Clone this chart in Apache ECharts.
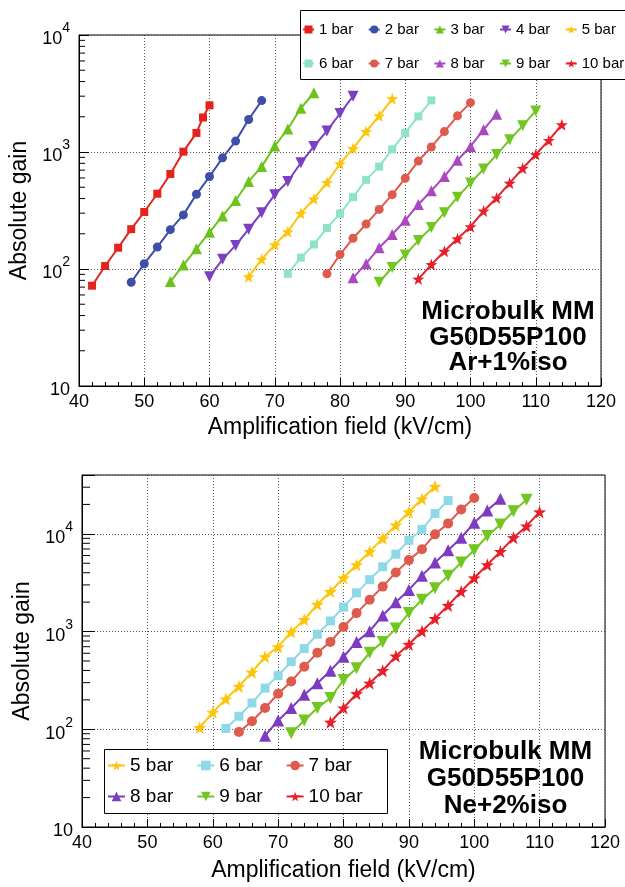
<!DOCTYPE html>
<html><head><meta charset="utf-8">
<script src="https://cdn.jsdelivr.net/npm/echarts@6/dist/echarts.min.js"></script>
<style>
body{margin:0;background:#fff}
#c1{position:absolute;left:0;top:0;width:625px;height:444px}
#c2{position:absolute;left:0;top:444px;width:625px;height:443px}
</style>
</head><body><div id="c1"></div><div id="c2"></div>
<script>
// ---------- Data: Ar+1%iso (top) ----------
const fieldAr1 = [42,44,46,48,50,52,54,56,58,59,60];
const gainAr1  = [72,106,152,219,307,440,649,1007,1456,1973,2505];
const fieldAr2 = [48,50,52,54,56,58,60,62,64,66,68];
const gainAr2  = [77,111,154,217,290,435,617,891,1239,1896,2749];
const fieldAr3 = [54,56,58,60,62,64,66,68,70,72,74,76];
const gainAr3  = [78,108,149,206,284,385,560,750,1125,1574,2365,3207];
const fieldAr4 = [60,62,64,66,68,70,72,74,76,78,80,82];
const gainAr4  = [86,121,159,219,303,432,560,809,1116,1514,2133,2998];
const fieldAr5 = [66,68,70,72,74,76,78,80,82,84,86,88];
const gainAr5  = [86,121,161,208,299,397,549,794,1069,1495,2037,2852];
const fieldAr6 = [72,74,76,78,80,82,84,86,88,90,92,94];
const gainAr6  = [91,125,162,224,297,411,578,750,1054,1456,2013,2761];
const fieldAr7 = [78,80,82,84,86,88,90,92,94,96,98,100];
const gainAr7  = [91,133,183,242,323,432,597,836,1104,1495,2037,2642];
const fieldAr8 = [82,84,86,88,90,92,94,96,98,100,102,104];
const gainAr8  = [84,111,152,197,261,356,467,617,851,1116,1552,2104];
const fieldAr9 = [86,88,90,92,94,96,98,100,102,104,106,108,110];
const gainAr9  = [77,103,132,175,226,303,411,542,716,951,1271,1680,2244];
const fieldAr10 = [92,94,96,98,100,102,104,106,108,110,112,114];
const gainAr10  = [82,109,142,181,230,313,405,542,725,951,1256,1711];

// ---------- Data: Ne+2%iso (bottom) ----------
const fieldNe5 = [58,60,62,64,66,68,70,72,74,76,78,80,82,84,86,88,90,92,94];
const gainNe5  = [104,149,204,274,384,552,698,991,1324,1892,2566,3532,4818,6577,8995,12270,16750,22700,30550];
const fieldNe6 = [62,64,66,68,70,72,74,76,78,80,82,84,86,88,90,92,94,96];
const gainNe6  = [102,136,186,264,354,491,671,939,1282,1778,2489,3396,4603,6196,8590,11120,16150,21880];
const fieldNe7 = [64,66,68,70,72,74,76,78,80,82,84,86,88,90,92,94,96,98,100];
const gainNe7  = [94,121,165,231,308,437,607,784,1114,1545,2113,2883,4027,5384,6966,9880,12790,17740,23290];
const fieldNe8 = [68,70,72,74,76,78,80,82,84,86,88,90,92,94,96,98,100,102,104];
const gainNe8  = [86,123,165,225,296,398,552,784,1007,1462,1995,2667,3733,5090,6790,9120,12970,17330,22910];
const fieldNe9 = [72,74,76,78,80,82,84,86,88,90,92,94,96,98,100,102,104,106,108];
const gainNe9  = [91,123,165,209,320,421,607,784,1072,1545,2113,2771,3733,5090,6790,9500,12470,17020,22390];
const fieldNe10 = [78,80,82,84,86,88,90,92,94,96,98,100,102,104,106,108,110];
const gainNe10  = [118,165,231,296,398,561,738,1007,1356,1849,2566,3532,4818,6577,9120,11990,16750];

const namesTop = ['1 bar','2 bar','3 bar','4 bar','5 bar','6 bar','7 bar','8 bar','9 bar','10 bar'];
const namesBot = ['5 bar','6 bar','7 bar','8 bar','9 bar','10 bar'];
const xTitle = 'Amplification field (kV/cm)';
const yTitle = 'Absolute gain';
const labelTop = ['Microbulk MM','G50D55P100','Ar+1%iso'];
const labelBot = ['Microbulk MM','G50D55P100','Ne+2%iso'];

// ---------- Styles ----------
const FONT = '"Liberation Sans", Arial, Helvetica, sans-serif';
const STAR = 'path://M0,-10 L2.35,-3.24 L9.51,-3.09 L3.8,1.24 L5.88,8.09 L0,4 L-5.88,8.09 L-3.8,1.24 L-9.51,-3.09 L-2.35,-3.24 Z';
const TRI_UP = 'path://M5,0 L10,8.66 L0,8.66 Z';
const TRI_DN = 'path://M0,0 L10,0 L5,8.66 Z';

function zip(xs, ys){ return xs.map((x,i)=>[x, ys[i]]); }

function mkSeries(name, xs, ys, color, symbol, size){
  return {
    type:'line', name, data: zip(xs, ys), color,
    symbol, symbolSize: size, showSymbol:true,
    lineStyle:{width:2, color}, itemStyle:{color},
    animation:false, z:3
  };
}

function minorTickValues(maxDecade){
  const out = [];
  for (let d = 10; d <= maxDecade; d *= 10)
    for (let k = 2; k <= 9; k++) out.push(k*d);
  return out;
}

function yFmt(v){
  const l = Math.log10(v), e = Math.round(l);
  if (Math.abs(l - e) > 1e-6) return '';
  if (e === 1) return '{b|10}';
  return '{b|10}{e|' + e + '}';
}

function buildOption(cfg){
  const minorVals = minorTickValues(cfg.minorMaxDecade).filter(v => v < cfg.ymax);
  const series = cfg.series.slice();
  series.push({
    type:'custom', silent:true, z:5, clip:false,
    data: minorVals.map(v => [cfg.xmin, v]),
    renderItem: function(params, api){
      const p = api.coord([api.value(0), api.value(1)]);
      return {type:'line', shape:{x1:p[0], y1:p[1], x2:p[0] + cfg.yMinorLen, y2:p[1]},
              style:{stroke:'#000', lineWidth:1}};
    }
  });
  const graphics = [];
  graphics.push({type:'rect', z:10, shape:cfg.legendBox, style:{fill:'#fff', stroke:'#000', lineWidth:1}});
  cfg.label.forEach((t,i)=>{
    graphics.push({type:'text', z:10, x:cfg.labelX, y:cfg.labelY[i],
      style:{text:t, font:'bold 26px ' + FONT, fill:'#000', align:'center', verticalAlign:'middle',
             textAlign:'center', textVerticalAlign:'middle'}});
  });
  const legends = cfg.legendRows.map(r => ({
    data: r.names, left: r.left, top: r.top, orient:'horizontal', padding:0,
    itemGap: cfg.legendGap, itemWidth: cfg.legendIconW, itemHeight: cfg.legendIconH,
    textStyle:{fontSize: cfg.legendFont, fontFamily: FONT, color:'#000', padding:[0,0,0,0]},
    selectedMode:false, z:20, zlevel:0
  }));
  return {
    animation:false,
    backgroundColor:'#fff',
    textStyle:{fontFamily: FONT},
    grid:{left:cfg.grid.left, top:cfg.grid.top, width:cfg.grid.width, height:cfg.grid.height,
          show:true, borderColor:'#000', borderWidth:1, containLabel:false},
    legend: legends,
    xAxis:{
      type:'value', min:40, max:120, interval:10,
      name:xTitle, nameLocation:'middle', nameGap:cfg.xNameGap,
      nameTextStyle:{fontSize:23, fontFamily:FONT, color:'#000'},
      axisLine:{show:true, onZero:false, lineStyle:{color:'#000', width:1}},
      axisTick:{show:true, inside:true, length:8, lineStyle:{color:'#000'}},
      minorTick:{show:true, splitNumber:5, length:4, lineStyle:{color:'#000'}},
      axisLabel:{fontSize:18, fontFamily:FONT, color:'#000', margin:7},
      splitLine:{show:true, lineStyle:{color:'#555', type:[1,2], width:1}}
    },
    yAxis:{
      type:'log', logBase:10, min:10, max:cfg.ymax,
      name:yTitle, nameLocation:'middle', nameGap:cfg.yNameGap,
      nameTextStyle:{fontSize:23, fontFamily:FONT, color:'#000'},
      axisLine:{show:true, lineStyle:{color:'#000', width:1}},
      axisTick:{show:true, inside:true, length:cfg.yMajorLen, lineStyle:{color:'#000'}},
      axisLabel:{formatter:yFmt, margin:9, color:'#000',
        rich:{
          b:{fontSize:18, fontFamily:FONT, color:'#000', lineHeight:27, verticalAlign:'bottom'},
          e:{fontSize:14, fontFamily:FONT, color:'#000', lineHeight:15, verticalAlign:'top'}
        }},
      splitLine:{show:true, lineStyle:{color:'#555', type:[1,2], width:1}}
    },
    graphic: graphics,
    series
  };
}

// ---------- Top chart ----------
const topSeries = [
  mkSeries(namesTop[0], fieldAr1, gainAr1, '#e4231c', 'rect', 8),
  mkSeries(namesTop[1], fieldAr2, gainAr2, '#3f4ea8', 'circle', 9),
  mkSeries(namesTop[2], fieldAr3, gainAr3, '#6cc31a', TRI_UP, 11),
  mkSeries(namesTop[3], fieldAr4, gainAr4, '#7b3fc2', TRI_DN, 11),
  mkSeries(namesTop[4], fieldAr5, gainAr5, '#fcc40a', STAR, 12),
  mkSeries(namesTop[5], fieldAr6, gainAr6, '#8de3c8', 'rect', 8),
  mkSeries(namesTop[6], fieldAr7, gainAr7, '#de5a4c', 'circle', 9),
  mkSeries(namesTop[7], fieldAr8, gainAr8, '#aa48c0', TRI_UP, 11),
  mkSeries(namesTop[8], fieldAr9, gainAr9, '#72c620', TRI_DN, 11),
  mkSeries(namesTop[9], fieldAr10, gainAr10, '#e6202a', STAR, 12)
];
const c1 = echarts.init(document.getElementById('c1'), null, {renderer:'canvas'});
c1.setOption(buildOption({
  grid:{left:79, top:35, width:522, height:356},
  ymax:10000, minorMaxDecade:1000, xmin:40, yMinorLen:6, yMajorLen:10,
  xNameGap:30, yNameGap:45,
  series: topSeries,
  legendBox:{x:300.5, y:10.5, width:330, height:69},
  legendRows:[{names:namesTop.slice(0,5), left:302, top:22},{names:namesTop.slice(5), left:302, top:56}],
  legendGap:14.5, legendIconW:11, legendIconH:10, legendFont:15,
  label:labelTop, labelX:508, labelY:[312,338,363]
}));

// ---------- Bottom chart ----------
const botSeries = [
  mkSeries(namesBot[0], fieldNe5, gainNe5, '#fcc40a', STAR, 13),
  mkSeries(namesBot[1], fieldNe6, gainNe6, '#8fd8e8', 'rect', 9),
  mkSeries(namesBot[2], fieldNe7, gainNe7, '#de5a4c', 'circle', 10),
  mkSeries(namesBot[3], fieldNe8, gainNe8, '#7d3cc0', TRI_UP, 12),
  mkSeries(namesBot[4], fieldNe9, gainNe9, '#72c620', TRI_DN, 12),
  mkSeries(namesBot[5], fieldNe10, gainNe10, '#e6202a', STAR, 13)
];
const c2 = echarts.init(document.getElementById('c2'), null, {renderer:'canvas'});
c2.setOption(buildOption({
  grid:{left:82, top:31, width:523, height:353},
  ymax:40000, minorMaxDecade:10000, xmin:40, yMinorLen:8, yMajorLen:13,
  xNameGap:32, yNameGap:47,
  series: botSeries,
  legendBox:{x:104.5, y:305.5, width:283, height:64},
  legendRows:[{names:namesBot.slice(0,3), left:107, top:312},{names:namesBot.slice(3), left:107, top:343}],
  legendGap:23, legendIconW:17, legendIconH:12, legendFont:19,
  label:labelBot, labelX:505.5, labelY:[307.7,335,361.7]
}));
</script>
</body></html>
